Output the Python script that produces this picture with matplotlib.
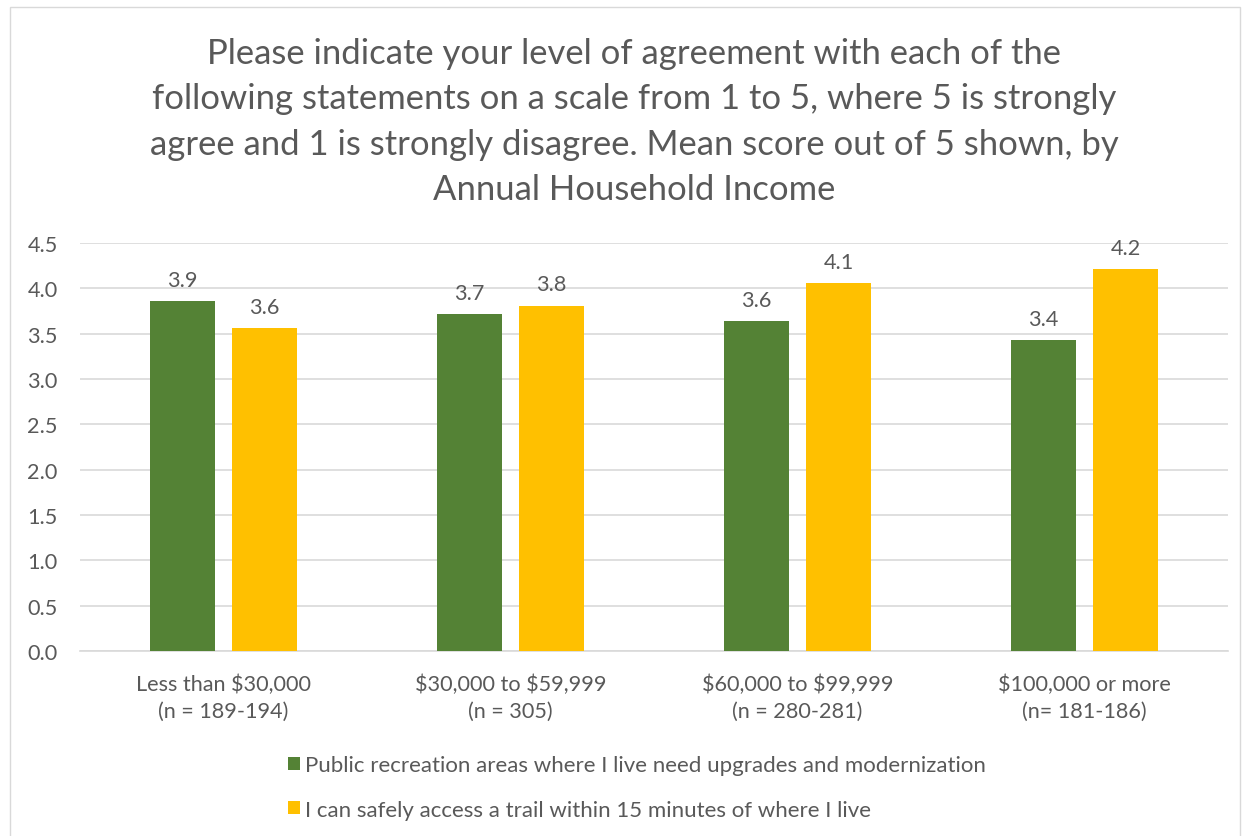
import matplotlib
matplotlib.use("Agg")
import matplotlib.pyplot as plt
import numpy as np
from matplotlib.patches import Rectangle

categories = ["Less than \\$30,000\n(n = 189-194)", "\\$30,000 to \\$59,999\n(n = 305)",
              "\\$60,000 to \\$99,999\n(n = 280-281)", "\\$100,000 or more\n(n= 181-186)"]
series_names = ["Public recreation areas where I live need upgrades and modernization",
                "I can safely access a trail within 15 minutes of where I live"]
green_vals = [3.86, 3.72, 3.64, 3.43]
yellow_vals = [3.56, 3.81, 4.06, 4.21]
y_ticks = [0.0, 0.5, 1.0, 1.5, 2.0, 2.5, 3.0, 3.5, 4.0, 4.5]

title = ("Please indicate your level of agreement with each of the\n"
         "following statements on a scale from 1 to 5, where 5 is strongly\n"
         "agree and 1 is strongly disagree. Mean score out of 5 shown, by\n"
         "Annual Household Income")

plt.rcParams['font.family'] = ['Lato', 'DejaVu Sans']
TXT = '#595959'
GREEN = '#548235'
YELLOW = '#FFC000'
FS = 15.6

fig = plt.figure(figsize=(12.48, 8.37), dpi=100)
fig.patches.append(Rectangle((10/1248, -0.01), (1240-10)/1248, 1 - 8/837 + 0.01,
                             transform=fig.transFigure, fill=False, edgecolor='#D9D9D9', lw=1))
ax = fig.add_axes([80/1248, 1-652/837, (1228-80)/1248, (652-244)/837])

x = np.arange(len(categories))
w = 0.226
off = 0.143
b1 = ax.bar(x - off, green_vals, w, color=GREEN, label=series_names[0], zorder=3)
b2 = ax.bar(x + off, yellow_vals, w, color=YELLOW, label=series_names[1], zorder=3)
for bars, vals in ((b1, green_vals), (b2, yellow_vals)):
    for r, v in zip(bars, vals):
        ax.annotate(f"{v:.1f}", (r.get_x() + r.get_width()/2, v), xytext=(0, 8),
                    textcoords='offset points', ha='center', va='bottom', fontsize=FS, color=TXT)

ax.set_xlim(-0.5, len(categories) - 0.5)
ax.set_ylim(0, 4.5)
ax.set_yticks(y_ticks)
ax.set_yticklabels([f"{t:.1f}" for t in y_ticks])
ax.set_xticks(x)
ax.set_xticklabels(categories, linespacing=1.45)
ax.tick_params(axis='y', length=0, pad=16, labelsize=FS, labelcolor=TXT)
ax.tick_params(axis='x', length=0, pad=16, labelsize=FS, labelcolor=TXT)
ax.grid(axis='y', color='#D9D9D9', lw=1.2, zorder=0)
for s in ['top', 'right', 'left']:
    ax.spines[s].set_visible(False)
ax.spines['bottom'].set_color('#D9D9D9')
ax.spines['bottom'].set_linewidth(1.2)

fig.text(634/1248, 1 - 122/837, title, ha='center', va='center', fontsize=24.9, color=TXT, linespacing=1.52)

leg = fig.legend(handles=[b1, b2], labels=series_names, loc='upper left',
                 bbox_to_anchor=(277/1248, 1 - 745/837), ncol=1, frameon=False,
                 fontsize=16, labelcolor=TXT, handlelength=0.55, handleheight=0.55,
                 handletextpad=0.2, labelspacing=1.1, borderpad=0)

fig.savefig("out.png", dpi=100)
